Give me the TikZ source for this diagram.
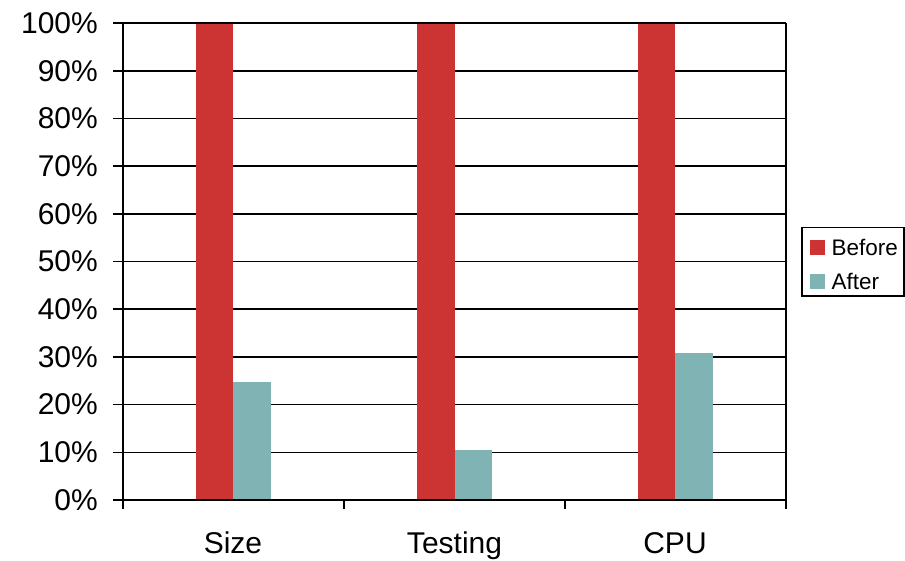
\documentclass[tikz,border=0pt]{standalone}
\usepackage{fontspec}
\setmainfont{Liberation Sans}
\definecolor{barBefore}{RGB}{204,51,51}
\definecolor{barAfter}{RGB}{128,180,180}
\begin{document}
\begin{tikzpicture}[x=1pt,y=-1pt,
  gridline/.style={line width=1.6pt,black},
  axisline/.style={line width=1.8pt,black},
  ticklabel/.style={anchor=east,inner sep=0pt,font=\fontsize{30}{30}\selectfont},
  catlabel/.style={anchor=base,inner sep=0pt,font=\fontsize{30}{30}\selectfont},
  legendtext/.style={anchor=base west,inner sep=0pt,font=\fontsize{22.5}{22.5}\selectfont},
  before/.style={fill=barBefore,draw=none},
  after/.style={fill=barAfter,draw=none}]
\useasboundingbox (0,0) rectangle (905,560);
% plot frame: x 123..786, y 500 (0%) .. 23 (100%)
\def\yz{500}
\def\ys{4.77}
% horizontal grid lines with left tick marks and labels
\foreach \p in {0,10,...,100}{
  \draw[gridline] (113,{\yz-\ys*\p}) -- (786,{\yz-\ys*\p});
  \node[ticklabel] (t\p) at (98,{\yz-\ys*\p}) {\p\%};
}
% bars: each category 221 wide, bar width 37.5
\foreach \c/\v [count=\i] in {233/24.7,454.5/10.5,675/30.8}{
  \fill[before] ({\c-37.5},\yz) rectangle (\c,{\yz-\ys*100});
  \fill[after] (\c,\yz) rectangle ({\c+37.5},{\yz-\ys*\v});
}
% axes and frame
\draw[axisline] (123,23) -- (123,509);
\draw[axisline] (786,23) -- (786,509);
\draw[axisline] (113,\yz) -- (786,\yz);
\draw[axisline] (113,23) -- (786,23);
\foreach \x in {344,565}{
  \draw[axisline] (\x,\yz) -- (\x,509);
}
% category labels
\node[catlabel] (cSize) at (233,553) {Size};
\node[catlabel] (cTesting) at (454.5,553) {Testing};
\node[catlabel] (cCPU) at (675,553) {CPU};
% legend
\draw[line width=1.6pt] (802,227.5) rectangle (904,296);
\fill[before] (810,240) rectangle (825,255);
\fill[after] (810,274) rectangle (825,289);
\node[legendtext] (lBefore) at (831.5,255.5) {Before};
\node[legendtext] (lAfter) at (831.5,289) {After};
\end{tikzpicture}
\end{document}
